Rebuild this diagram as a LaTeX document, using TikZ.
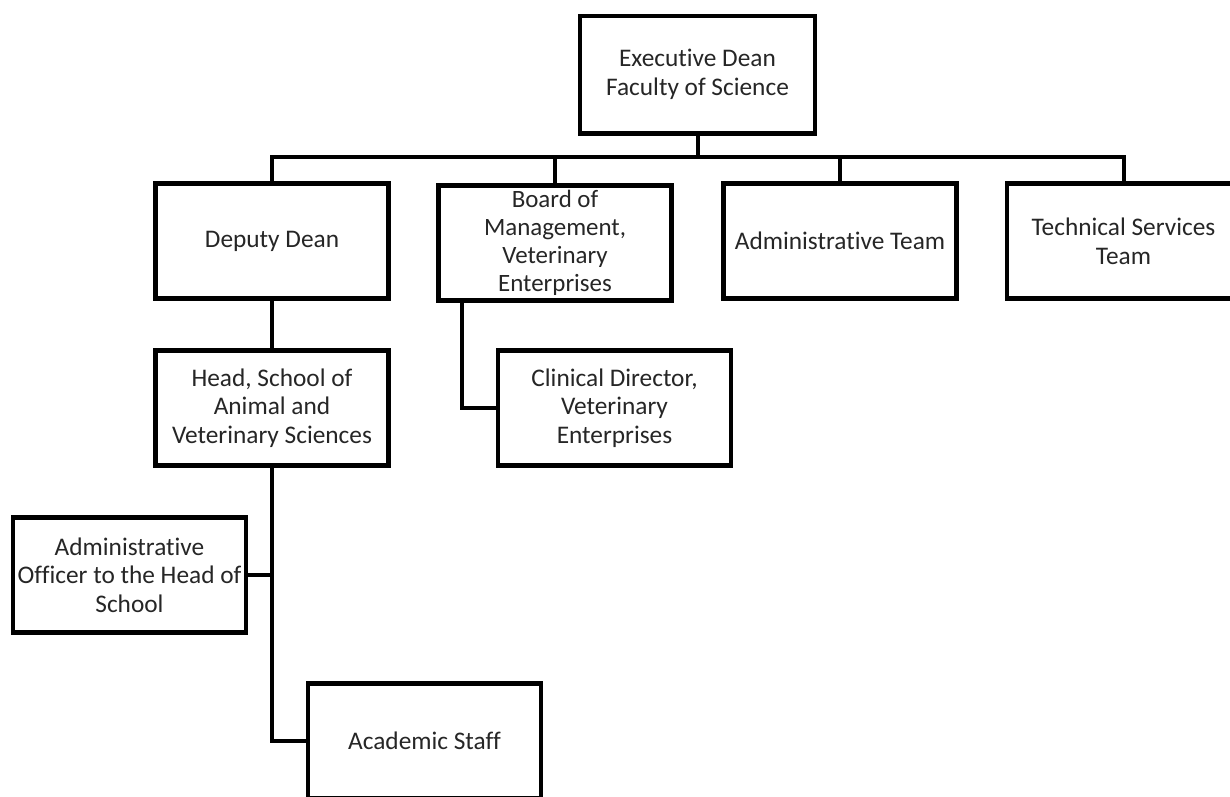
\documentclass[tikz,border=0pt]{standalone}
\usepackage{fontspec}
\setmainfont{Carlito}[Ligatures=NoCommon]
\usetikzlibrary{calc}
\begin{document}
\begin{tikzpicture}[x=0.75pt,y=-0.75pt,
  box/.style={draw=black,line width=3.5pt,rectangle,inner sep=0pt,
    minimum width=174.75pt,minimum height=86pt,align=center,
    text=black!85,font=\fontsize{19}{21.5}\selectfont},
  conn/.style={draw=black,line width=3pt}]
\useasboundingbox (0,0) rectangle (1230,796);
\fill[white] (0,0) rectangle (1230,796);
\clip (0,0) rectangle (1230,796);
\node[box,minimum width=176.25pt,minimum height=88pt] (exec) at (697.5,74.5) {Executive Dean\\Faculty of Science};
\node[box] (deputy) at (272,241) {Deputy Dean};
\node[box,font=\fontsize{18.7}{20.9}\selectfont] (board) at (555,243) {Board of\\Management,\\Veterinary\\Enterprises};
\node[box] (adminteam) at (840,241) {Administrative Team};
\node[box] (tech) at (1123.5,241) {Technical Services\\Team};
\node[box] (head) at (272,408) {Head, School of\\Animal and\\Veterinary Sciences};
\node[box] (clinical) at (614.5,408) {Clinical Director,\\Veterinary\\Enterprises};
\node[box] (officer) at (129.5,575) {Administrative\\Officer to the Head of\\School};
\node[box] (academic) at (424.5,741) {Academic Staff};
\coordinate (bus) at (697.5,157);
\draw[conn] (exec.south) -- (bus);
\draw[conn] (deputy.north) |- (bus) -| (tech.north);
\draw[conn] (board.north) -- (board.north |- bus);
\draw[conn] (adminteam.north) -- (adminteam.north |- bus);
\draw[conn] (deputy.south) -- (head.north);
\draw[conn] ($(board.south)+(-93,0)$) |- (clinical.west);
\draw[conn] (head.south) |- (academic.west);
\draw[conn] (officer.east) -- (officer.east -| head.south);
\end{tikzpicture}
\end{document}
